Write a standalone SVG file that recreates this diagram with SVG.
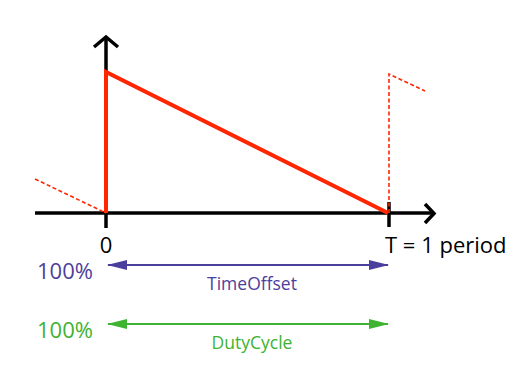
<svg xmlns="http://www.w3.org/2000/svg" width="531" height="390" viewBox="0 0 531 390">
<style>
.ax{stroke:#000;fill:none;stroke-width:3.5;stroke-linecap:butt}
.sig{stroke:#FF2600;fill:none;stroke-width:4;stroke-linejoin:miter}
.dash{stroke:#FF2600;fill:none;stroke-width:1.6;stroke-dasharray:4 2.5}
.lbl{font-family:"Open Sans","Liberation Sans",sans-serif;font-size:22px;fill:#000}
.pur{fill:#4D3E9C}
.grn{fill:#3DB330}
.small{font-family:"Open Sans","Liberation Sans",sans-serif;font-size:17.5px;text-anchor:middle}
.big{font-family:"Open Sans","Liberation Sans",sans-serif;font-size:22px}
</style>
<defs>
<marker id="hp" viewBox="0 0 20 10" refX="19" refY="5" markerWidth="20" markerHeight="10" markerUnits="userSpaceOnUse" orient="auto-start-reverse"><path d="M0,0 L20,5 L0,10 Z" fill="#4B3F9E"/></marker>
<marker id="hg" viewBox="0 0 20 10" refX="19" refY="5" markerWidth="20" markerHeight="10" markerUnits="userSpaceOnUse" orient="auto-start-reverse"><path d="M0,0 L20,5 L0,10 Z" fill="#3DB330"/></marker>
</defs>
<g id="connectors">
<line class="ax" x1="35" y1="213" x2="106" y2="213" stroke-width="4"/>
<line class="ax" x1="106" y1="213" x2="434" y2="213" stroke-width="3"/>
<polyline class="ax" points="425,204 434,213.5 425,223" stroke-width="3.5"/>
<line class="ax" x1="106" y1="228" x2="106" y2="37"/>
<polyline class="ax" points="94,47 106,37 118,47"/>
<line class="ax" x1="389" y1="202" x2="389" y2="227"/>
<path class="dash" d="M35,179 L106,213"/>
<path class="sig" d="M106,213 L106,72 L388,213"/>
<path class="dash" d="M389,213 L389,74 L425,91"/>
<line x1="108" y1="265" x2="388" y2="265" stroke="#4B3F9E" stroke-width="2" marker-start="url(#hp)" marker-end="url(#hp)"/>
<line x1="108" y1="324" x2="388" y2="324" stroke="#3DB330" stroke-width="2" marker-start="url(#hg)" marker-end="url(#hg)"/>
</g>
<g id="labels">
<text class="lbl" x="106" y="253" text-anchor="middle">0</text>
<text class="lbl" x="385" y="253" font-size="23.5">T = 1 period</text>
<text class="big pur" x="37" y="279">100%</text>
<text class="small pur" x="252" y="290">TimeOffset</text>
<text class="big grn" x="37" y="338">100%</text>
<text class="small grn" x="252" y="349">DutyCycle</text>
</g>
</svg>
